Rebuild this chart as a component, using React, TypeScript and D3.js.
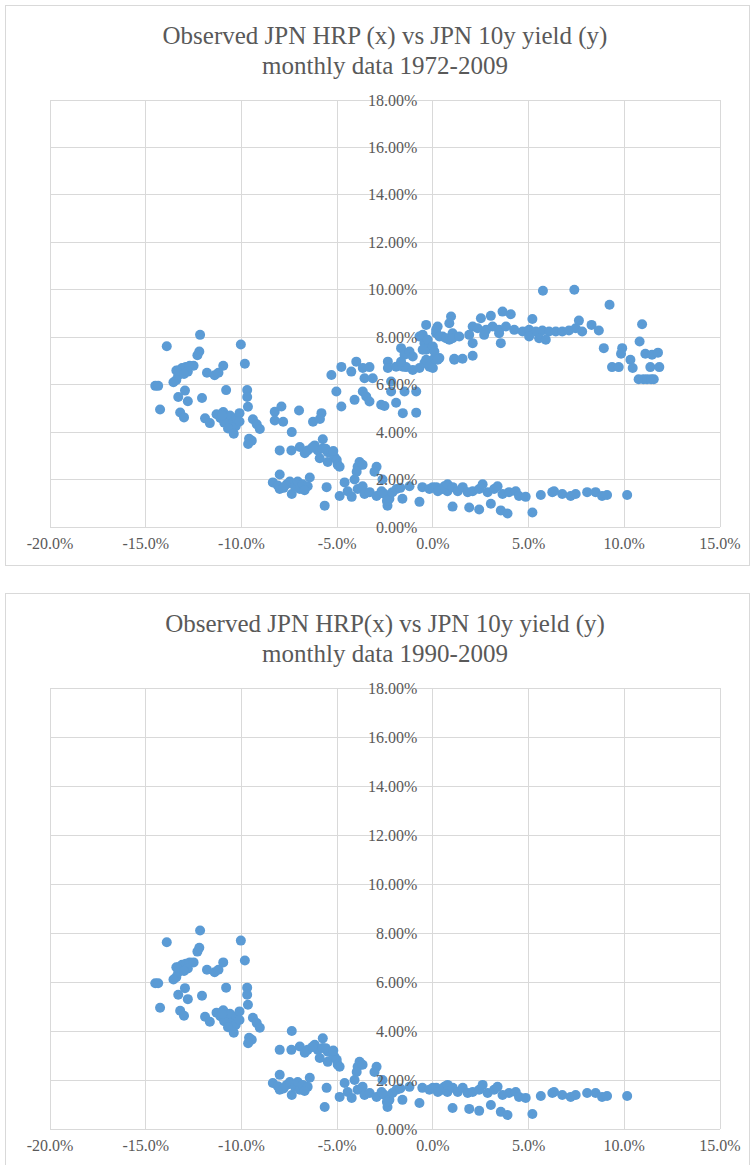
import React from 'react';
import * as d3 from 'd3';

// HRP (x, %) and 10y yield (y, %)
// 1990-2009 observations (shown in both charts)
const hrp9009 = [
  -12.16, -13.9, -10.03, -12.2, -12.3, -9.82,
  -13.3, -13.1, -12.9, -12.7, -12.5, -13.3, -13.4, -13.4, -12.8, -13.0,
  -13.55, -11.8, -11.4, -11.2, -10.95,
  -14.5, -14.35, -12.95, -13.3, -12.8, -12.06, -10.8,
  -9.7, -9.7, -9.66, -14.25, -13.2, -13.0, -11.9, -11.65,
  -11.3, -11.1, -10.95, -10.8, -10.6, -10.45, -10.25, -10.1, -10.6, -10.9, -11.0, -10.3, -10.1, -10.7,
  -9.4, -9.2, -9.04, -10.4, -9.6, -9.46, -9.65,
  -7.37, -8.0, -7.39, -6.95, -6.69, -6.54, -6.17, -6.01, -5.91, -5.76, -5.49, -5.49, -5.29, -5.13, -5.02, -4.97, -4.87, -6.3, -5.6, -5.2,
  -3.83, -3.93, -3.67, -3.98, -2.94, -3.05, -5.75,
  -8.36, -8.0, -8.0, -7.63, -7.47, -7.37, -7.21, -7.06, -6.95, -6.8, -6.54, -6.43, -8.1, -7.8, -6.7,
  -5.55, -5.65,
  -4.87, -4.61, -4.45, -4.24, -4.09, -3.93, -3.67, -3.57,
  -3.3, -2.94, -2.68, -2.63, -2.53, -2.37, -2.27, -2.11, -1.9, -1.59, -0.7,
  -1.22, -0.55, -0.18, 0.18, 0.5, 0.76, -2.4, -1.7,
  0, 0.26, 0.6, 0.77, 1.04, 1.3, 1.56, 1.82, 2.08, 2.42, 2.6, 2.86, 3.2, 3.38, 3.64, 3.98, 4.33, 4.5, 4.85,
  1.03, 1.9, 2.42, 3.03, 3.55, 3.9, 5.2,
  5.64, 6.24, 6.33, 6.76, 7.2, 7.46, 8.06, 8.5, 8.84, 9.1, 10.15,
];
const yld9009 = [
  8.1, 7.62, 7.69, 7.4, 7.24, 6.88,
  6.6, 6.7, 6.75, 6.8, 6.8, 6.4, 6.2, 6.6, 6.55, 6.45,
  6.1, 6.5, 6.4, 6.5, 6.8,
  5.95, 5.95, 5.75, 5.48, 5.3, 5.44, 5.77,
  5.77, 5.48, 5.07, 4.95, 4.83, 4.62, 4.58, 4.38,
  4.75, 4.6, 4.85, 4.5, 4.7, 4.4, 4.6, 4.8, 4.3, 4.4, 4.7, 4.25, 4.45, 4.15,
  4.54, 4.33, 4.13, 3.93, 3.72, 3.64, 3.5,
  4.0, 3.23, 3.23, 3.37, 3.11, 3.23, 3.44, 3.23, 2.9, 3.31, 3.15, 2.74, 3.11, 2.94, 2.82, 2.62, 2.54, 3.35, 3.3, 3.2,
  2.74, 2.54, 2.62, 2.33, 2.54, 2.33, 3.7,
  1.88, 2.21, 1.6, 1.8, 1.92, 1.39, 1.72, 1.92, 1.6, 1.8, 1.72, 2.09, 1.75, 1.65, 1.55,
  1.68, 0.9,
  1.31, 1.88, 1.51, 1.27, 2.0, 1.6, 1.72, 1.39,
  1.47, 1.31, 1.51, 2.0, 1.39, 0.9, 1.19, 1.47, 1.6, 1.19, 1.06,
  1.72, 1.68, 1.6, 1.68, 1.6, 1.51, 1.1, 1.65,
  1.68, 1.51, 1.72, 1.8, 1.68, 1.51, 1.68, 1.47, 1.51, 1.6, 1.8, 1.47, 1.6, 1.72, 1.39, 1.47, 1.51, 1.31, 1.27,
  0.86, 0.82, 0.74, 0.98, 0.7, 0.57, 0.61,
  1.35, 1.47, 1.51, 1.39, 1.31, 1.39, 1.47, 1.47, 1.31, 1.35, 1.35,
];

// 1972-1989 observations (first chart only)
const hrp7289 = [
  -8.26, -7.91, -8.26, -7.82, -6.99, -6.26, -5.82, -5.9,
  -5.3, -4.78, -5.04, -4.78, -4.26, -4.0, -4.09, -3.66, -3.31, -3.57, -3.14, -3.66, -3.48, -3.31, -2.7, -2.53, -2.35, -2.35,
  -1.92, -1.57, -1.4, -1.05, -0.7, -0.44, -0.09,
  -2.18, -2.18, -1.48, -0.87, -1.92, -1.57, -0.87,
  -1.66, -1.48, -1.22, -1.05, -1.66,
  -0.7, -0.44, -0.35,
  0.17, 0.51, 0.86, 1.03, 0, 0.34, 1.12,
  5.75, 7.39, 9.23,
  3.03, 3.64, 4.07, 5.2, 7.63, 8.29, 8.67,
  2.51, 0.95, -0.35, 0.25, 0.86,
  2.08, 2.34, 2.78, 3.12, 3.46, 3.82, 4.25, 4.69, 5.03, 5.38, 5.72, 6.07, 6.42, 6.76, 7.11, 7.46, 7.8,
  2.68, 3.46, 5.03, 5.55, 5.9, 3.55,
  -0.53, -0.27, 0.17, 0.34, 0, -0.53, 0.08, -0.35, 0.25, -0.18, 0.69, 1.03, 1.38, 1.9, 2.08, 1.12, 1.55, 2.08, 0,
  8.93, 9.36, 9.71,
  10.93, 10.8, 9.89, 9.83, 10.32, 10.44, 11.1, 11.45, 11.76, 11.36, 11.83,
  10.75, 11.0, 11.19, 11.4, 11.54,
];
const yld7289 = [
  4.86, 5.08, 4.49, 4.44, 4.91, 4.44, 4.8, 4.55,
  6.41, 6.75, 5.71, 5.08, 6.55, 6.97, 5.36, 6.7, 6.74, 6.27, 6.27, 5.71, 5.5, 5.29, 5.15, 5.1, 6.97, 6.7,
  6.76, 6.76, 6.74, 6.62, 6.7, 6.91, 6.76,
  6.13, 5.71, 5.71, 5.71, 5.24, 4.8, 4.82,
  7.54, 7.26, 7.4, 7.19, 6.97,
  8.03, 7.75, 7.47,
  8.17, 8.03, 7.89, 8.17, 7.05, 7.12, 7.05,
  9.96, 10.0, 9.37,
  8.9, 9.08, 8.97, 8.77, 8.7, 8.52, 8.28,
  8.8, 8.87, 8.52, 8.45, 8.59,
  8.45, 8.38, 8.31, 8.45, 8.31, 8.45, 8.31, 8.24, 8.31, 8.24, 8.28, 8.24, 8.24, 8.24, 8.28, 8.38, 8.24,
  8.1, 8.17, 8.03, 7.96, 7.89, 7.75,
  8.1, 7.89, 8.31, 8.03, 7.61, 7.47, 7.4, 7.05, 7.05, 6.76, 7.96, 7.96, 8.03, 8.1, 7.75, 7.09, 7.09, 7.22, 6.7,
  7.54, 6.74, 6.74,
  8.55, 7.82, 7.54, 7.3, 7.05, 6.7, 7.3, 7.26, 7.35, 6.74, 6.74,
  6.23, 6.23, 6.23, 6.23, 6.23,
];

const xTicks = [-20, -15, -10, -5, 0, 5, 10, 15];
const yTicks = [0, 2, 4, 6, 8, 10, 12, 14, 16, 18];

const titleTop = ['Observed JPN HRP (x) vs JPN 10y yield (y)', 'monthly data 1972-2009'];
const titleBottom = ['Observed JPN HRP(x) vs JPN 10y yield (y)', 'monthly data 1990-2009'];

const FONT = "'Liberation Serif', 'Times New Roman', Times, serif";
const TEXT = '#595959';
const GRID = '#d9d9d9';
const DOT = '#5b9bd5';

const fmtX = (v: number) => `${v.toFixed(1)}%`;
const fmtY = (v: number) => `${v.toFixed(2)}%`;

type PanelProps = {
  top: number;
  frameH: number;
  plotTop: number;
  plotBottom: number;
  title: string[];
  xs: number[];
  ys: number[];
};

const Panel = ({ top, frameH, plotTop, plotBottom, title, xs, ys }: PanelProps) => {
  const x = d3.scaleLinear().domain([-20, 15]).range([50, 720]);
  const y = d3.scaleLinear().domain([0, 18]).range([plotBottom, plotTop]);
  const cx = x(0);

  return (
    <g transform={`translate(0,${top})`}>
      <rect x={5.5} y={0.5} width={744} height={frameH} fill="#fff" stroke={GRID} />
      <g style={{ fontFamily: FONT, fontSize: '25px' }} fill={TEXT} textAnchor="middle">
        {title.map((t, i) => (
          <text key={i} x={385} y={39 + i * 30}>{t}</text>
        ))}
      </g>
      <g stroke={GRID} strokeWidth={1} shapeRendering="crispEdges">
        {xTicks.map(t => (
          <line key={`gx${t}`} x1={x(t)} x2={x(t)} y1={y(18)} y2={y(0)} />
        ))}
        {yTicks.map(t => (
          <line key={`gy${t}`} x1={x(-20)} x2={x(15)} y1={y(t)} y2={y(t)} />
        ))}
      </g>
      <g fill={DOT}>
        {xs.map((v, i) => (
          <circle key={i} cx={x(v)} cy={y(ys[i])} r={5} />
        ))}
      </g>
      <g style={{ fontFamily: FONT, fontSize: '16px' }} fill={TEXT}>
        {yTicks.map(t => (
          <text key={`ly${t}`} x={cx - 15.5} y={y(t) + 5.5} textAnchor="end">{fmtY(t)}</text>
        ))}
        {xTicks.map(t => (
          <text key={`lx${t}`} x={x(t)} y={y(0) + 22} textAnchor="middle">{fmtX(t)}</text>
        ))}
      </g>
    </g>
  );
};

export default function App() {
  const allX = [...hrp7289, ...hrp9009];
  const allY = [...yld7289, ...yld9009];
  return (
    <div style={{ position: 'absolute', left: 0, top: 0 }}>
      <svg width={753} height={1165} style={{ display: 'block', background: '#fff' }}>
        <Panel top={5} frameH={560} plotTop={95} plotBottom={522} title={titleTop} xs={allX} ys={allY} />
        <Panel top={593} frameH={590} plotTop={95} plotBottom={536} title={titleBottom} xs={hrp9009} ys={yld9009} />
      </svg>
    </div>
  );
}
